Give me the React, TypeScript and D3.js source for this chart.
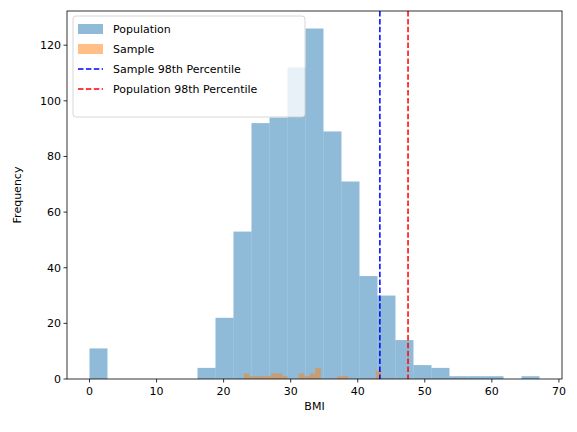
import * as d3 from "d3";
import * as React from "react";

const popStart = 0;
const popWidth = 67.1 / 25;
const popCounts = [11, 0, 0, 0, 0, 0, 4, 22, 53, 92, 94, 112, 126, 89, 71, 37, 30, 14, 5, 4, 1, 1, 1, 0, 1];
const sampleStart = 23.0;
const sampleWidth = 0.82;
const sampleCounts = [2, 1, 1, 1, 1, 2, 2, 1, 0, 0, 2, 1, 2, 4, 0, 0, 0, 1, 1, 0, 0, 0, 0, 0, 3];
const sample98 = 43.3;
const pop98 = 47.5;
const xTicks = [0, 10, 20, 30, 40, 50, 60, 70];
const yTicks = [0, 20, 40, 60, 80, 100, 120];

export default function App() {
  const W = 577, H = 432;
  const L = 67, R = 562, T = 11, B = 379;
  const x = d3.scaleLinear().domain([-3.355, 70.46]).range([L, R]);
  const y = d3.scaleLinear().domain([0, 132.3]).range([B, T]);
  const font = "DejaVu Sans, sans-serif";
  const legend = [
    { label: "Population", kind: "patch", color: "rgba(31,119,180,0.5)" },
    { label: "Sample", kind: "patch", color: "rgba(255,127,14,0.5)" },
    { label: "Sample 98th Percentile", kind: "line", color: "blue" },
    { label: "Population 98th Percentile", kind: "line", color: "red" },
  ];
  return (
    <svg width={W} height={H} style={{ position: "absolute", left: 0, top: 0 }} fontFamily={font}>
      <rect width={W} height={H} fill="white" />
      {popCounts.map((c, i) => {
        const x0 = popStart + i * popWidth;
        return c > 0 ? (
          <rect key={"p" + i} x={x(x0)} width={x(x0 + popWidth) - x(x0)} y={y(c)} height={B - y(c)} fill="#1f77b4" fillOpacity={0.5} />
        ) : null;
      })}
      {sampleCounts.map((c, i) => {
        const x0 = sampleStart + i * sampleWidth;
        return c > 0 ? (
          <rect key={"s" + i} x={x(x0)} width={x(x0 + sampleWidth) - x(x0)} y={y(c)} height={B - y(c)} fill="#ff7f0e" fillOpacity={0.5} />
        ) : null;
      })}
      <line x1={x(sample98)} x2={x(sample98)} y1={T} y2={B} stroke="blue" strokeWidth={1.5} strokeDasharray="5.5,2.4" />
      <line x1={x(pop98)} x2={x(pop98)} y1={T} y2={B} stroke="red" strokeWidth={1.5} strokeDasharray="5.5,2.4" />
      <rect x={L} y={T} width={R - L} height={B - T} fill="none" stroke="black" strokeWidth={0.8} />
      {xTicks.map((t) => (
        <g key={"x" + t}>
          <line x1={x(t)} x2={x(t)} y1={B} y2={B + 3.5} stroke="black" strokeWidth={0.8} />
          <text x={x(t)} y={B + 16} textAnchor="middle" fontSize={11}>{t}</text>
        </g>
      ))}
      {yTicks.map((t) => (
        <g key={"y" + t}>
          <line x1={L - 3.5} x2={L} y1={y(t)} y2={y(t)} stroke="black" strokeWidth={0.8} />
          <text x={L - 6} y={y(t) + 4} textAnchor="end" fontSize={11}>{t}</text>
        </g>
      ))}
      <text x={(L + R) / 2} y={B + 31} textAnchor="middle" fontSize={11}>BMI</text>
      <text transform={`translate(21,${(T + B) / 2}) rotate(-90)`} textAnchor="middle" fontSize={11}>Frequency</text>
      <rect x={73} y={16} width={232} height={101} rx={3} fill="white" fillOpacity={0.8} stroke="#ccc" strokeWidth={0.8} />
      {legend.map((d, i) => {
        const cy = 29 + i * 20;
        return (
          <g key={d.label}>
            {d.kind === "patch" ? (
              <rect x={78} y={cy - 5} width={25} height={10} fill={d.color} />
            ) : (
              <line x1={78} x2={103} y1={cy} y2={cy} stroke={d.color} strokeWidth={1.5} strokeDasharray="5.5,2.4" />
            )}
            <text x={113} y={cy + 4} fontSize={11}>{d.label}</text>
          </g>
        );
      })}
    </svg>
  );
}
